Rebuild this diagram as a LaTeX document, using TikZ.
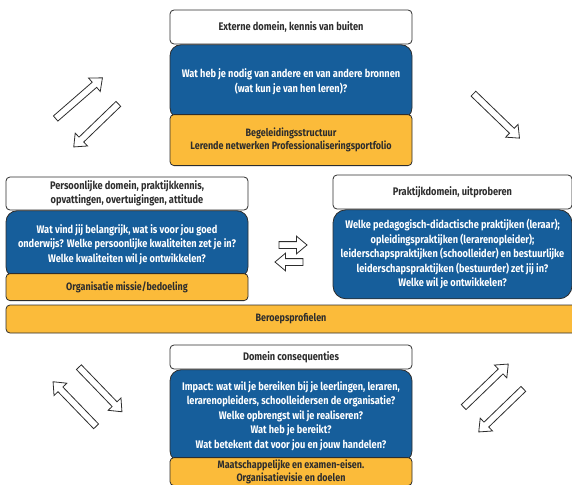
\documentclass[tikz,border=0pt]{standalone}
\usepackage{fontspec}
\setmainfont[FakeStretch=0.84]{Fira Sans}
\usetikzlibrary{positioning,shapes.arrows}
\definecolor{vraagblauw}{RGB}{22,94,155}
\definecolor{kadergeel}{RGB}{251,187,58}
\definecolor{lijngrijs}{RGB}{45,45,45}
\tikzset{
  domein/.style={draw=lijngrijs,fill=white,rounded corners=4pt,line width=0.8pt,align=center,inner sep=0pt,
    text=lijngrijs,font=\fontsize{11}{14}\selectfont\bfseries},
  vraag/.style={draw=lijngrijs,fill=vraagblauw,rounded corners=11pt,line width=0.8pt,align=center,inner sep=0pt,
    text=white,font=\fontsize{11}{14.5}\selectfont\bfseries},
  kader/.style={draw=lijngrijs,fill=kadergeel,rounded corners=4pt,line width=0.8pt,align=center,inner sep=0pt,
    text=lijngrijs,font=\fontsize{10.7}{13}\selectfont\bfseries},
  pijl/.style={single arrow,draw=lijngrijs,fill=white,line width=0.8pt,inner sep=3pt,minimum width=17pt,
    single arrow head extend=5.5pt,single arrow tip angle=80}
}
\begin{document}
\begin{tikzpicture}[x=1pt,y=-1pt]
\useasboundingbox (0,0) rectangle (572,484);

% externe domein (boven)
\node[domein,minimum width=242pt,minimum height=34pt] (extern) at (291,27) {Externe domein, kennis van buiten};
\node[vraag,minimum width=242pt,minimum height=74pt,below=0pt of extern] (externvraag)
  {Wat heb je nodig van andere en van andere bronnen\\(wat kun je van hen leren)?};
\node[kader,minimum width=242pt,minimum height=51pt,below=-5pt of externvraag] (externkader)
  {Begeleidingsstructuur\\Lerende netwerken Professionaliseringsportfolio};

% persoonlijke domein (links)
\node[domein,minimum width=242pt,minimum height=33pt] (persoon) at (127,193.5)
  {Persoonlijke domein, praktijkkennis,\\opvattingen, overtuigingen, attitude};
\node[vraag,minimum width=242pt,minimum height=67pt,below=0pt of persoon] (persoonvraag)
  {Wat vind jij belangrijk, wat is voor jou goed\\onderwijs? Welke persoonlijke kwaliteiten zet je in?\\Welke kwaliteiten wil je ontwikkelen?};
\node[kader,minimum width=242pt,minimum height=27pt,below=-5pt of persoonvraag] (persoonkader)
  {Organisatie missie/bedoeling};

% praktijkdomein (rechts)
\node[domein,minimum width=239pt,minimum height=34pt] (praktijk) at (452.5,192) {Praktijkdomein, uitproberen};
\node[vraag,minimum width=239pt,minimum height=89pt,rounded corners=13pt,below=0pt of praktijk] (praktijkvraag)
  {Welke pedagogisch-didactische praktijken (leraar);\\opleidingspraktijken (lerarenopleider);\\leiderschapspraktijken (schoolleider) en bestuurlijke\\leiderschapspraktijken (bestuurder) zet jij in?\\Welke wil je ontwikkelen?};

% beroepsprofielen
\node[kader,minimum width=570pt,minimum height=28pt] (beroep) at (291,319) {Beroepsprofielen};

% domein consequenties (onder)
\node[domein,minimum width=242pt,minimum height=24pt] (gevolg) at (291,357) {Domein consequenties};
\node[vraag,minimum width=242pt,minimum height=92pt,below=0pt of gevolg] (gevolgvraag)
  {Impact: wat wil je bereiken bij je leerlingen, leraren,\\lerarenopleiders, schoolleidersen de organisatie?\\Welke opbrengst wil je realiseren?\\Wat heb je bereikt?\\Wat betekent dat voor jou en jouw handelen?};
\node[kader,minimum width=242pt,minimum height=28pt,below=-5pt of gevolgvraag] (gevolgkader)
  {Maatschappelijke en examen-eisen.\\Organisatievisie en doelen};

% pijlen
\node[pijl,minimum height=62pt,rotate=41] (pijlA) at (77.5,99.5) {};
\node[pijl,minimum height=62pt,rotate=224] (pijlB) at (97.5,124) {};
\node[pijl,minimum height=64pt,rotate=-44] (pijlC) at (495,114.5) {};
\node[pijl,minimum height=28pt] (pijlD) at (291,245) {};
\node[pijl,minimum height=28pt,rotate=180] (pijlE) at (291,262) {};
\node[pijl,minimum height=62pt,rotate=-46] (pijlF) at (99,388) {};
\node[pijl,minimum height=62pt,rotate=134] (pijlG) at (76,405.5) {};
\node[pijl,minimum height=62pt,rotate=44] (pijlH) at (484.5,387) {};
\node[pijl,minimum height=62pt,rotate=224] (pijlI) at (502.5,409) {};
\end{tikzpicture}
\end{document}
